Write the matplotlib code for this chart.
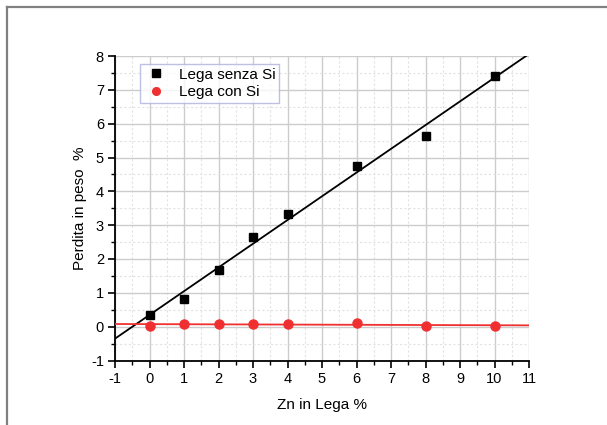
import numpy as np
import matplotlib
matplotlib.use("Agg")
import matplotlib.pyplot as plt
from matplotlib.ticker import MultipleLocator
from matplotlib.lines import Line2D

plt.rcParams['font.family'] = ['Liberation Sans', 'DejaVu Sans']
plt.rcParams['axes.unicode_minus'] = False

zn = [0, 1, 2, 3, 4, 6, 8, 10]
senza_si = [0.35, 0.82, 1.67, 2.65, 3.34, 4.75, 5.64, 7.40]
con_si = [0.03, 0.08, 0.07, 0.08, 0.07, 0.12, 0.03, 0.01]
x_ticks = list(range(-1, 12))
y_ticks = list(range(-1, 9))

fig = plt.figure(figsize=(6.07, 4.25), dpi=100)
ax = fig.add_axes([115/607, 1-360.5/425, (529-115)/607, (360.5-56)/425])

# figure frame (left and top visible)
fig.add_artist(Line2D([7/607, 7/607], [0, 1-7/425], transform=fig.transFigure, color='#808080', lw=1.6))
fig.add_artist(Line2D([7/607, 1], [1-7/425, 1-7/425], transform=fig.transFigure, color='#808080', lw=1.6))

xs = np.array([-1, 11])
p1 = np.polyfit(zn, senza_si, 1)
p2 = np.polyfit(zn, con_si, 1)
ax.plot(xs, np.polyval(p1, xs), color='black', lw=1.3, zorder=3)
ax.plot(xs, np.polyval(p2, xs), color='#f03030', lw=1.3, zorder=3)
ax.plot(zn, senza_si, 's', color='black', ms=6, zorder=4, label='Lega senza Si')
ax.plot(zn, con_si, 'o', color='#f03030', ms=6.5, zorder=4, label='Lega con Si')

ax.set_xlim(-1, 11)
ax.set_ylim(-1, 8)
ax.set_xticks(x_ticks)
ax.set_yticks(y_ticks)
ax.xaxis.set_minor_locator(MultipleLocator(0.5))
ax.yaxis.set_minor_locator(MultipleLocator(0.5))
ax.grid(True, which='major', color='#cccccc', lw=1.0)
ax.grid(True, which='minor', color='#e2e2e2', lw=0.8, ls=(0, (2, 2)))
ax.set_axisbelow(True)
for s in ['top', 'right']:
    ax.spines[s].set_visible(False)
for s in ['left', 'bottom']:
    ax.spines[s].set_linewidth(1.3)
ax.tick_params(which='major', direction='out', length=5, width=1.2, labelsize=10.5, pad=3)
ax.tick_params(which='minor', direction='out', length=3, width=1.0)

ax.set_xlabel('Zn in Lega %', fontsize=11, labelpad=9)
ax.set_ylabel('Perdita in peso  %', fontsize=11, labelpad=3)

leg = ax.legend(loc='upper left', bbox_to_anchor=((140-115)/414, 1-(64-56)/304.5),
                fontsize=11, frameon=True, fancybox=False, borderaxespad=0,
                handletextpad=0.7, borderpad=0.25, labelspacing=0.2, handlelength=1.6,
                markerscale=0.85)
leg.get_frame().set_edgecolor('#b0b0e0')
leg.get_frame().set_linewidth(1.0)

fig.savefig('out.png', dpi=100)
